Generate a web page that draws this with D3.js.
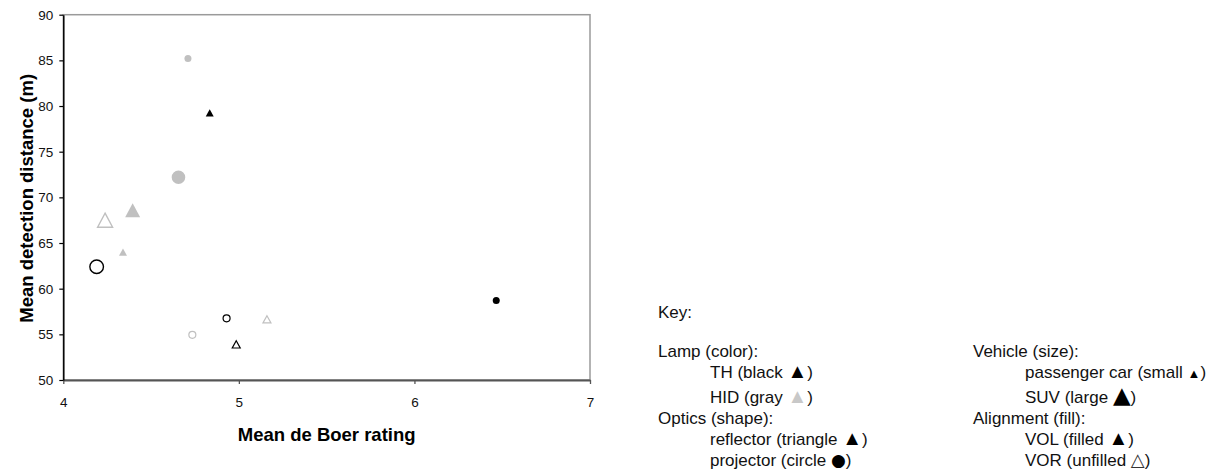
<!DOCTYPE html>
<html>
<head>
<meta charset="utf-8">
<script src="https://cdn.jsdelivr.net/npm/d3@7"></script>
<style>
  html, body { margin: 0; padding: 0; background: #fff; }
  svg { display: block; }
  text { font-family: "Liberation Sans", Arial, sans-serif; }
</style>
</head>
<body>
<svg id="chart" width="1219" height="470"></svg>
<script>
// ---- Data ----
const deBoer   = [4.71, 4.834, 4.656, 4.395, 4.238, 4.34, 4.19, 4.93, 5.16, 4.735, 4.985, 6.466];
const distance = [85.2, 79.25, 72.2, 68.6, 67.5, 64.0, 62.4, 56.75, 56.65, 54.95, 53.9, 58.7];
const lamp      = ["HID","TH","HID","HID","HID","HID","TH","TH","HID","HID","TH","TH"];
const optics    = ["projector","reflector","projector","reflector","reflector","reflector","projector","projector","reflector","projector","reflector","projector"];
const vehicle   = ["car","car","SUV","SUV","SUV","car","SUV","car","car","car","car","car"];
const alignment = ["VOL","VOL","VOL","VOL","VOR","VOL","VOR","VOR","VOR","VOR","VOR","VOL"];

const xTicks = [4, 5, 6, 7];
const yTicks = [50, 55, 60, 65, 70, 75, 80, 85, 90];
const xTitle = "Mean de Boer rating";
const yTitle = "Mean detection distance (m)";

const keyTitle = "Key:";
const keyLeft = [
  { row: 1, indent: 0, parts: [["Lamp (color):"]] },
  { row: 2, indent: 1, parts: [["TH (black "], ["▲", "#000"], [")"]] },
  { row: 3, indent: 1, parts: [["HID (gray "], ["▲", "#c8c8c8"], [")"]] },
  { row: 4, indent: 0, parts: [["Optics (shape):"]] },
  { row: 5, indent: 1, parts: [["reflector (triangle "], ["▲", "#000"], [")"]] },
  { row: 6, indent: 1, parts: [["projector (circle "], ["●", "#000", 17, "DejaVu Sans"], [")"]] }
];
const keyRight = [
  { row: 1, indent: 0, parts: [["Vehicle (size):"]] },
  { row: 2, indent: 1, parts: [["passenger car (small "], ["▲", "#000", 13], [")"]] },
  { row: 3, indent: 1, parts: [["SUV (large "], ["▲", "#000", 23, "DejaVu Sans"], [")"]] },
  { row: 4, indent: 0, parts: [["Alignment (fill):"]] },
  { row: 5, indent: 1, parts: [["VOL (filled "], ["▲", "#000"], [")"]] },
  { row: 6, indent: 1, parts: [["VOR (unfilled "], ["△", "#333", 18, "DejaVu Sans"], [")"]] }
];

// ---- Layout ----
const svg = d3.select("#chart");
const W = 1219, H = 470;
const plot = { left: 63.3, top: 14.7, right: 590, bottom: 380 };

svg.append("rect").attr("width", W).attr("height", H).attr("fill", "#fff");

const x = d3.scaleLinear().domain([4, 7]).range([plot.left, plot.right]);
const y = d3.scaleLinear().domain([50, 90]).range([plot.bottom, plot.top]);

// plot area border (top & right in gray)
svg.append("rect")
  .attr("x", plot.left).attr("y", plot.top)
  .attr("width", plot.right - plot.left).attr("height", plot.bottom - plot.top)
  .attr("fill", "none").attr("stroke", "#9a9a9a").attr("stroke-width", 1.5);

// x axis
const gx = svg.append("g")
  .attr("transform", `translate(0,${plot.bottom})`)
  .call(d3.axisBottom(x).tickValues(xTicks).tickFormat(d3.format("d"))
        .tickSize(4).tickSizeOuter(0).tickPadding(13));
gx.select(".domain").attr("stroke", "#555").attr("stroke-width", 2);
gx.selectAll(".tick line").attr("stroke", "#555").attr("stroke-width", 1.3);
gx.selectAll(".tick text").attr("font-size", 13.5).attr("fill", "#111")
  .attr("font-family", "Liberation Sans, Arial, sans-serif");

// y axis
const gy = svg.append("g")
  .attr("transform", `translate(${plot.left},0)`)
  .call(d3.axisLeft(y).tickValues(yTicks).tickFormat(d3.format("d"))
        .tickSize(4).tickSizeOuter(0).tickPadding(6));
gy.select(".domain").attr("stroke", "#000").attr("stroke-width", 1.5);
gy.selectAll(".tick line").attr("stroke", "#000").attr("stroke-width", 1.2);
gy.selectAll(".tick text").attr("font-size", 13.5).attr("fill", "#111")
  .attr("font-family", "Liberation Sans, Arial, sans-serif");

// axis titles
svg.append("text")
  .attr("x", (plot.left + plot.right) / 2).attr("y", 441)
  .attr("text-anchor", "middle").attr("font-weight", "bold").attr("font-size", 18.5)
  .attr("fill", "#000").text(xTitle);
svg.append("text")
  .attr("transform", `translate(33,${(plot.top + plot.bottom) / 2 + 1}) rotate(-90)`)
  .attr("text-anchor", "middle").attr("font-weight", "bold").attr("font-size", 18.5)
  .attr("fill", "#000").text(yTitle);

// ---- Markers ----
const gray = "#c0c0c0";
const pts = deBoer.map((d, i) => ({
  x: d, y: distance[i], lamp: lamp[i], optics: optics[i],
  vehicle: vehicle[i], alignment: alignment[i]
}));

function markerPath(p) {
  const big = p.vehicle === "SUV";
  if (p.optics === "projector") {
    const r = big ? 6.8 : 3.5;
    return d3.arc()({ innerRadius: 0, outerRadius: r, startAngle: 0, endAngle: 2 * Math.PI });
  }
  const w = big ? 15 : 8, h = big ? 14 : 7.2;
  return `M0,${-h / 2}L${w / 2},${h / 2}L${-w / 2},${h / 2}Z`;
}

svg.append("g").selectAll("path")
  .data(pts).join("path")
  .attr("transform", d => `translate(${x(d.x)},${y(d.y)})`)
  .attr("d", markerPath)
  .attr("fill", d => d.alignment === "VOL" ? (d.lamp === "TH" ? "#000" : gray) : "#fff")
  .attr("stroke", d => d.alignment === "VOL" ? "none" : (d.lamp === "TH" ? "#000" : gray))
  .attr("stroke-width", d => d.vehicle === "SUV" ? 1.4 : 1.2);

// ---- Key ----
const rowBase = [317.5, 357, 377.5, 403, 424, 445, 466];
svg.append("text").attr("x", 658).attr("y", rowBase[0])
  .attr("font-size", 17).attr("fill", "#111").text(keyTitle);

function drawKey(items, x0, indentX) {
  items.forEach(it => {
    const t = svg.append("text")
      .attr("x", it.indent ? indentX : x0).attr("y", rowBase[it.row])
      .attr("font-size", 17).attr("fill", "#111");
    it.parts.forEach(p => {
      const ts = t.append("tspan").text(p[0]);
      if (p[1]) {
        ts.attr("fill", p[1]).attr("font-size", p[2] || 20);
        if (p[3]) ts.attr("font-family", p[3]);
      }
    });
  });
}
drawKey(keyLeft, 658, 710);
drawKey(keyRight, 973, 1025);
</script>
</body>
</html>
